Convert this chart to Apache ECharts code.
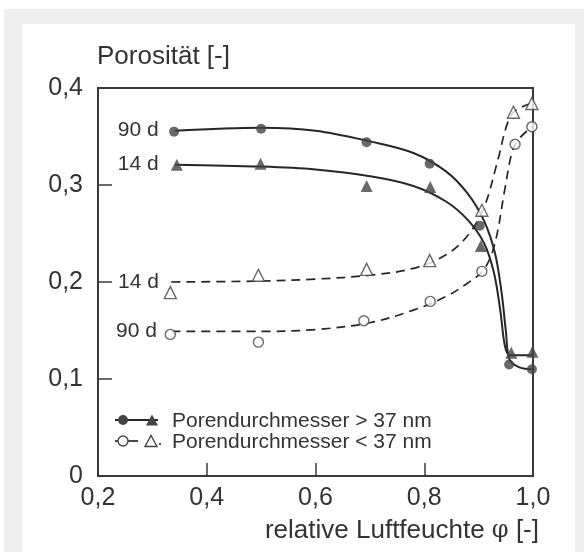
<!DOCTYPE html>
<html>
<head>
    <meta charset="utf-8">
    <title>Porosität - relative Luftfeuchte</title>
    <script src="https://cdn.jsdelivr.net/npm/echarts@6/dist/echarts.min.js"></script>
    <style type="text/css">
        body { margin: 0; background: #fff; }
        #chart { width: 584px; height: 552px; }
    </style>
</head>
<body>
<div id="chart"></div>
<script>
    // Messpunkte (Porendurchmesser > 37 nm, gefuellte Symbole)
    var big90X = [0.340, 0.500, 0.694, 0.810, 0.902, 0.956, 0.998];
    var big90Y = [0.355, 0.358, 0.344, 0.322, 0.258, 0.115, 0.110];
    var big14X = [0.345, 0.499, 0.694, 0.811, 0.904, 0.960, 0.999];
    var big14Y = [0.321, 0.322, 0.299, 0.298, 0.237, 0.127, 0.128];
    // Messpunkte (Porendurchmesser < 37 nm, offene Symbole)
    var small14X = [0.333, 0.495, 0.694, 0.810, 0.906, 0.964, 0.998];
    var small14Y = [0.189, 0.207, 0.213, 0.222, 0.274, 0.375, 0.384];
    var small90X = [0.333, 0.495, 0.689, 0.811, 0.906, 0.967, 0.998];
    var small90Y = [0.146, 0.138, 0.160, 0.180, 0.211, 0.342, 0.360];

    // Ausgleichskurven
    var fit90BigX = [0.342, 0.5, 0.6, 0.7, 0.78, 0.84, 0.88, 0.91, 0.93, 0.942, 0.95, 0.957, 0.975, 1.0];
    var fit90BigY = [0.356, 0.359, 0.356, 0.345, 0.333, 0.314, 0.291, 0.263, 0.230, 0.190, 0.150, 0.120, 0.112, 0.110];
    var fit14BigX = [0.342, 0.5, 0.6, 0.7, 0.78, 0.84, 0.88, 0.91, 0.928, 0.94, 0.948, 0.956, 0.975, 1.0];
    var fit14BigY = [0.321, 0.319, 0.316, 0.309, 0.299, 0.283, 0.264, 0.240, 0.210, 0.170, 0.135, 0.125, 0.1245, 0.1245];
    var fit14SmallX = [0.335, 0.5, 0.6, 0.7, 0.78, 0.84, 0.88, 0.91, 0.935, 0.952, 0.966, 1.0];
    var fit14SmallY = [0.200, 0.201, 0.203, 0.207, 0.214, 0.228, 0.248, 0.277, 0.325, 0.362, 0.376, 0.385];
    var fit90SmallX = [0.335, 0.5, 0.6, 0.7, 0.78, 0.84, 0.88, 0.91, 0.93, 0.948, 0.962, 0.975, 1.0];
    var fit90SmallY = [0.149, 0.149, 0.151, 0.158, 0.171, 0.185, 0.199, 0.213, 0.240, 0.295, 0.335, 0.348, 0.361];

    var xTicks = [0.2, 0.4, 0.6, 0.8, 1.0];
    var yTicks = [0, 0.1, 0.2, 0.3, 0.4];

    var FONT = '"Liberation Sans", Arial, sans-serif';
    var INK = '#333';
    var MARK = '#444';
    var LINE = '#262626';

    function pts(xs, ys) {
        return xs.map(function (x, i) { return [x, ys[i]]; });
    }
    function fmt(v) {
        return v === 0 ? '0' : v.toFixed(1).replace('.', ',');
    }
    // Kurve mit Beschriftung am Anfang
    function curve(xs, ys, text, dashed, dist) {
        var data = pts(xs, ys);
        data[0] = {
            value: data[0],
            symbol: 'circle',
            symbolSize: 1,
            label: {
                show: true, position: 'left', distance: dist, formatter: text,
                fontFamily: FONT, fontSize: 21, color: INK
            }
        };
        return {
            type: 'line', data: data, symbol: 'none', showSymbol: true,
            smooth: 0.35, z: 2, silent: true,
            lineStyle: {color: LINE, width: dashed ? 1.7 : 2, type: dashed ? [9, 6] : 'solid'},
            itemStyle: {color: LINE}
        };
    }
    function marks(xs, ys, sym, size, filled) {
        return {
            type: 'scatter', data: pts(xs, ys), symbol: sym, symbolSize: size, z: 5,
            itemStyle: filled ? {color: MARK} : {color: '#fff', borderColor: MARK, borderWidth: 1.4}
        };
    }

    var chart = echarts.init(document.getElementById('chart'));
    var option = {
        animation: false,
        grid: {left: 98, right: 51, top: 88, bottom: 76, show: true, borderColor: '#3a3a3a', borderWidth: 2},
        xAxis: {
            type: 'value', min: xTicks[0], max: xTicks[xTicks.length - 1], interval: 0.2,
            axisLine: {lineStyle: {color: '#3a3a3a', width: 2}},
            axisTick: {inside: true, length: 13, lineStyle: {color: '#3a3a3a', width: 1.5}},
            axisLabel: {formatter: fmt, fontFamily: FONT, fontSize: 25, color: INK, margin: 10},
            splitLine: {show: false}
        },
        yAxis: {
            type: 'value', min: yTicks[0], max: yTicks[yTicks.length - 1], interval: 0.1,
            axisLine: {show: true, lineStyle: {color: '#3a3a3a', width: 2}},
            axisTick: {show: true, inside: true, length: 14, lineStyle: {color: '#3a3a3a', width: 1.5}},
            axisLabel: {formatter: fmt, fontFamily: FONT, fontSize: 25, color: INK, margin: 15},
            splitLine: {show: false}
        },
        graphic: [
            {type: 'rect', z: -10, shape: {x: 4, y: 9, width: 580, height: 543}, style: {fill: '#efefef'}},
            {type: 'rect', z: -9, shape: {x: 22, y: 24, width: 553, height: 528}, style: {fill: '#fff'}},
            {type: 'text', x: 97, y: 57, style: {text: 'Porosität [-]', font: '26px ' + FONT, fill: INK,
                    textVerticalAlign: 'middle', verticalAlign: 'middle'}},
            {type: 'text', x: 539, y: 531, style: {
                    text: '{a|relative Luftfeuchte }{b|φ}{a| [-]}',
                    textAlign: 'right', align: 'right', textVerticalAlign: 'middle', verticalAlign: 'middle',
                    rich: {
                        a: {fontFamily: FONT, fontSize: 26, fill: INK, color: INK},
                        b: {fontFamily: '"DejaVu Serif", serif', fontSize: 24, fill: INK, color: INK}
                    }
                }},
            // Legende
            {type: 'line', shape: {x1: 115, y1: 420, x2: 158, y2: 420}, style: {stroke: LINE, lineWidth: 2}},
            {type: 'circle', shape: {cx: 123, cy: 420, r: 5}, style: {fill: MARK}},
            {type: 'polygon', shape: {points: [[146, 425.5], [158, 425.5], [152, 414.5]]}, style: {fill: MARK}},
            {type: 'text', x: 172, y: 421, style: {text: 'Porendurchmesser > 37 nm', font: '21px ' + FONT, fill: INK,
                    textVerticalAlign: 'middle', verticalAlign: 'middle'}},
            {type: 'line', shape: {x1: 115, y1: 441, x2: 138, y2: 441}, style: {stroke: LINE, lineWidth: 1.7}},
            {type: 'circle', shape: {cx: 123, cy: 441, r: 5}, style: {fill: '#fff', stroke: MARK, lineWidth: 1.4}},
            {type: 'polygon', shape: {points: [[145, 446.5], [157, 446.5], [151, 435.5]]}, style: {fill: '#fff', stroke: MARK, lineWidth: 1.4}},
            {type: 'circle', shape: {cx: 160, cy: 444, r: 1.1}, style: {fill: LINE}},
            {type: 'text', x: 172, y: 442, style: {text: 'Porendurchmesser < 37 nm', font: '21px ' + FONT, fill: INK,
                    textVerticalAlign: 'middle', verticalAlign: 'middle'}}
        ],
        series: [
            curve(fit90BigX, fit90BigY, '90 d', false, 16),
            curve(fit14BigX, fit14BigY, '14 d', false, 16),
            curve(fit14SmallX, fit14SmallY, '14 d', true, 12),
            curve(fit90SmallX, fit90SmallY, '90 d', true, 14),
            marks(big90X, big90Y, 'circle', 10, true),
            marks(big14X, big14Y, 'triangle', 12, true),
            marks(small90X, small90Y, 'circle', 10, false),
            marks(small14X, small14Y, 'triangle', 12, false)
        ]
    };
    chart.setOption(option);
</script>
</body>
</html>
